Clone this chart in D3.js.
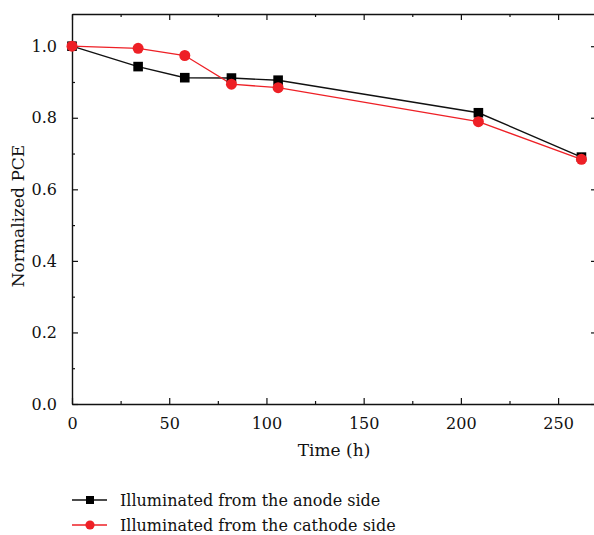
<!DOCTYPE html>
<html>
<head>
<meta charset="utf-8">
<script src="https://cdn.jsdelivr.net/npm/d3@7"></script>
<style>
  body { margin: 0; background: #fff; }
</style>
</head>
<body>
<svg id="chart"></svg>
<script>
// data
const hours = [0, 34, 58, 82, 106, 209, 262];
const anodePCE = [1.0, 0.943, 0.912, 0.911, 0.905, 0.814, 0.69];
const cathodePCE = [1.0, 0.994, 0.974, 0.894, 0.884, 0.789, 0.684];
const xTicks = [0, 50, 100, 150, 200, 250];
const yTicks = [0.0, 0.2, 0.4, 0.6, 0.8, 1.0];
const seriesNames = ["Illuminated from the anode side", "Illuminated from the cathode side"];

const width = 594;
const height = 535;
const marginLeft = 72;
const marginTop = 14;
const plotBottom = 404;
const plotRight = 597;
const serif = "'DejaVu Serif', serif";

const svg = d3.select("#chart").attr("width", width).attr("height", height);

// scales
const x = d3.scaleLinear().domain([0, 270]).range([marginLeft, plotRight]);
const y = d3.scaleLinear().domain([0, 1.09]).range([plotBottom, marginTop]);

const minorX = d3.range(25, 270, 50);
const minorY = d3.range(0.1, 1.09, 0.2);

// axes, ticks inside
function styleAxis(g) {
    g.attr("font-family", null);
    g.select(".domain").attr("stroke", "#111").attr("stroke-width", 1.4);
    g.selectAll(".tick line").attr("stroke", "#111").attr("stroke-width", 1.2);
    g.selectAll("text").style("font-family", serif).attr("font-size", 16).attr("fill", "#111");
}

svg.append("g")
    .attr("transform", `translate(0,${plotBottom})`)
    .call(d3.axisBottom(x).tickValues(xTicks).tickSizeInner(-6).tickSizeOuter(0).tickPadding(14).tickFormat(d3.format("d")))
    .call(styleAxis);

svg.append("g")
    .attr("transform", `translate(0,${plotBottom})`)
    .call(d3.axisBottom(x).tickValues(minorX).tickSize(-3).tickFormat(""))
    .call(styleAxis)
    .call(g => g.select(".domain").remove());

svg.append("g")
    .attr("transform", `translate(${marginLeft},0)`)
    .call(d3.axisLeft(y).tickValues(yTicks).tickSizeInner(-6).tickSizeOuter(0).tickPadding(15).tickFormat(d3.format(".1f")))
    .call(styleAxis);

svg.append("g")
    .attr("transform", `translate(${marginLeft},0)`)
    .call(d3.axisLeft(y).tickValues(minorY).tickSize(-3).tickFormat(""))
    .call(styleAxis)
    .call(g => g.select(".domain").remove());

// top and right frame
svg.append("g")
    .attr("transform", `translate(0,${marginTop})`)
    .call(d3.axisTop(x).tickValues(xTicks).tickSizeInner(-6).tickSizeOuter(0).tickFormat(""))
    .call(styleAxis);
svg.append("g")
    .attr("transform", `translate(0,${marginTop})`)
    .call(d3.axisTop(x).tickValues(minorX).tickSize(-3).tickFormat(""))
    .call(styleAxis)
    .call(g => g.select(".domain").remove());
svg.append("g")
    .attr("transform", `translate(${plotRight},0)`)
    .call(d3.axisRight(y).tickValues(yTicks).tickSizeInner(-6).tickSizeOuter(0).tickFormat(""))
    .call(styleAxis);
svg.append("g")
    .attr("transform", `translate(${plotRight},0)`)
    .call(d3.axisRight(y).tickValues(minorY).tickSize(-3).tickFormat(""))
    .call(styleAxis)
    .call(g => g.select(".domain").remove());

// axis titles
svg.append("text")
    .attr("x", 334)
    .attr("y", 456)
    .attr("text-anchor", "middle")
    .style("font-family", serif)
    .attr("font-size", 17)
    .attr("fill", "#111")
    .text("Time (h)");

svg.append("text")
    .attr("transform", `translate(24,${(marginTop + plotBottom) / 2 + 7}) rotate(-90)`)
    .attr("text-anchor", "middle")
    .style("font-family", serif)
    .attr("font-size", 17)
    .attr("fill", "#111")
    .text("Normalized PCE");

// series
const line = d3.line().x(d => x(d[0])).y(d => y(d[1]));
const anode = hours.map((h, i) => [h, anodePCE[i]]);
const cathode = hours.map((h, i) => [h, cathodePCE[i]]);
const red = "#ee2026";

svg.append("path").datum(anode)
    .attr("fill", "none").attr("stroke", "#111").attr("stroke-width", 1.4)
    .attr("d", line);
svg.append("path").datum(cathode)
    .attr("fill", "none").attr("stroke", red).attr("stroke-width", 1.3)
    .attr("d", line);

svg.append("g").selectAll("rect").data(anode).join("rect")
    .attr("x", d => x(d[0]) - 4.8).attr("y", d => y(d[1]) - 4.8)
    .attr("width", 9.6).attr("height", 9.6).attr("fill", "#000");

svg.append("g").selectAll("circle").data(cathode).join("circle")
    .attr("cx", d => x(d[0])).attr("cy", d => y(d[1]))
    .attr("r", 5.5).attr("fill", red);

// legend
const legendY = [500, 525];
const legend = svg.append("g");
seriesNames.forEach((name, i) => {
    const gy = legendY[i];
    const col = i === 0 ? "#111" : red;
    legend.append("line").attr("x1", 72).attr("x2", 107).attr("y1", gy).attr("y2", gy)
        .attr("stroke", col).attr("stroke-width", 1.4);
    if (i === 0) {
        legend.append("rect").attr("x", 90 - 4).attr("y", gy - 4).attr("width", 8).attr("height", 8).attr("fill", "#000");
    } else {
        legend.append("circle").attr("cx", 90).attr("cy", gy).attr("r", 4.6).attr("fill", red);
    }
    legend.append("text").attr("x", 120).attr("y", gy + 6)
        .style("font-family", serif).attr("font-size", 16).attr("fill", "#111")
        .text(name);
});
</script>
</body>
</html>
